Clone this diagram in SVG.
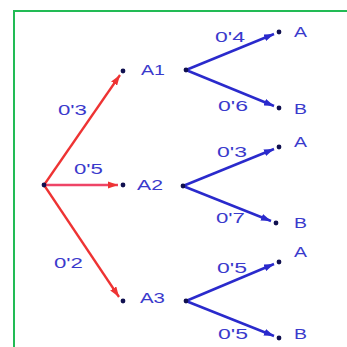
<svg xmlns="http://www.w3.org/2000/svg" width="347" height="347" viewBox="0 0 347 347">
<style>
.t{font-family:"Liberation Sans",Arial,sans-serif;font-size:15px;fill:#3a3acc}
.b{stroke:#2a2acc;stroke-width:2.5;fill:none}
.r{stroke:#ee3333;stroke-width:2.3;fill:none}
.d{fill:#101050}
</style>
<defs>
<marker id="ab" viewBox="0 0 10 7" refX="10" refY="3.5" markerWidth="4" markerHeight="2.8" orient="auto" markerUnits="strokeWidth"><path d="M0,0 L10,3.5 L0,7 Z" fill="#2a2acc"/></marker>
<marker id="ar" viewBox="0 0 10 7" refX="10" refY="3.5" markerWidth="4.5" markerHeight="3.2" orient="auto" markerUnits="strokeWidth"><path d="M0,0 L10,3.5 L0,7 Z" fill="#ee3333"/></marker>
</defs>
<rect x="14" y="11" width="345" height="345" fill="#fff" stroke="#22bb55" stroke-width="2"/>
<g id="connectors">
<path class="r" d="M44,185 L120,75" marker-end="url(#ar)"/>
<path class="r" d="M44,185 L118,185" marker-end="url(#ar)" style="stroke:#ee4466"/>
<path class="r" d="M44,185 L119,297" marker-end="url(#ar)"/>
<path class="b" d="M186,70 L274,34" marker-end="url(#ab)"/>
<path class="b" d="M186,70 L274,106" marker-end="url(#ab)"/>
<path class="b" d="M183,186 L274,149" marker-end="url(#ab)"/>
<path class="b" d="M183,186 L271,221" marker-end="url(#ab)"/>
<path class="b" d="M186,301 L274,264" marker-end="url(#ab)"/>
<path class="b" d="M186,301 L274,336" marker-end="url(#ab)"/>
<text class="t" x="58" y="115" textLength="29" lengthAdjust="spacingAndGlyphs">0'3</text>
<text class="t" x="74" y="174" textLength="29" lengthAdjust="spacingAndGlyphs">0'5</text>
<text class="t" x="54" y="268" textLength="29" lengthAdjust="spacingAndGlyphs">0'2</text>
<text class="t" x="215" y="42" textLength="30" lengthAdjust="spacingAndGlyphs">0'4</text>
<text class="t" x="218" y="111" textLength="30" lengthAdjust="spacingAndGlyphs">0'6</text>
<text class="t" x="217" y="157" textLength="30" lengthAdjust="spacingAndGlyphs">0'3</text>
<text class="t" x="216" y="223" textLength="29" lengthAdjust="spacingAndGlyphs">0'7</text>
<text class="t" x="217" y="273" textLength="30" lengthAdjust="spacingAndGlyphs">0'5</text>
<text class="t" x="218" y="339" textLength="30" lengthAdjust="spacingAndGlyphs">0'5</text>
</g>
<g id="root"><circle class="d" cx="44" cy="185" r="2.4"/></g>
<g id="A1"><circle class="d" cx="123" cy="71" r="2.4"/><circle class="d" cx="186" cy="70" r="2.4"/><text class="t" x="141" y="75" textLength="24" lengthAdjust="spacingAndGlyphs">A1</text></g>
<g id="A2"><circle class="d" cx="123" cy="185" r="2.4"/><circle class="d" cx="183" cy="186" r="2.4"/><text class="t" x="137" y="190" textLength="26" lengthAdjust="spacingAndGlyphs">A2</text></g>
<g id="A3"><circle class="d" cx="123" cy="301" r="2.4"/><circle class="d" cx="186" cy="301" r="2.4"/><text class="t" x="140" y="303" textLength="25" lengthAdjust="spacingAndGlyphs">A3</text></g>
<g id="A1A"><circle class="d" cx="279" cy="32" r="2.4"/><text class="t" x="294" y="37" textLength="13" lengthAdjust="spacingAndGlyphs">A</text></g>
<g id="A1B"><circle class="d" cx="279" cy="108" r="2.4"/><text class="t" x="294" y="114" textLength="13" lengthAdjust="spacingAndGlyphs">B</text></g>
<g id="A2A"><circle class="d" cx="279" cy="147" r="2.4"/><text class="t" x="294" y="147" textLength="13" lengthAdjust="spacingAndGlyphs">A</text></g>
<g id="A2B"><circle class="d" cx="276" cy="223" r="2.4"/><text class="t" x="294" y="228" textLength="13" lengthAdjust="spacingAndGlyphs">B</text></g>
<g id="A3A"><circle class="d" cx="279" cy="262" r="2.4"/><text class="t" x="294" y="257" textLength="13" lengthAdjust="spacingAndGlyphs">A</text></g>
<g id="A3B"><circle class="d" cx="279" cy="338" r="2.4"/><text class="t" x="294" y="339" textLength="13" lengthAdjust="spacingAndGlyphs">B</text></g>
</svg>
